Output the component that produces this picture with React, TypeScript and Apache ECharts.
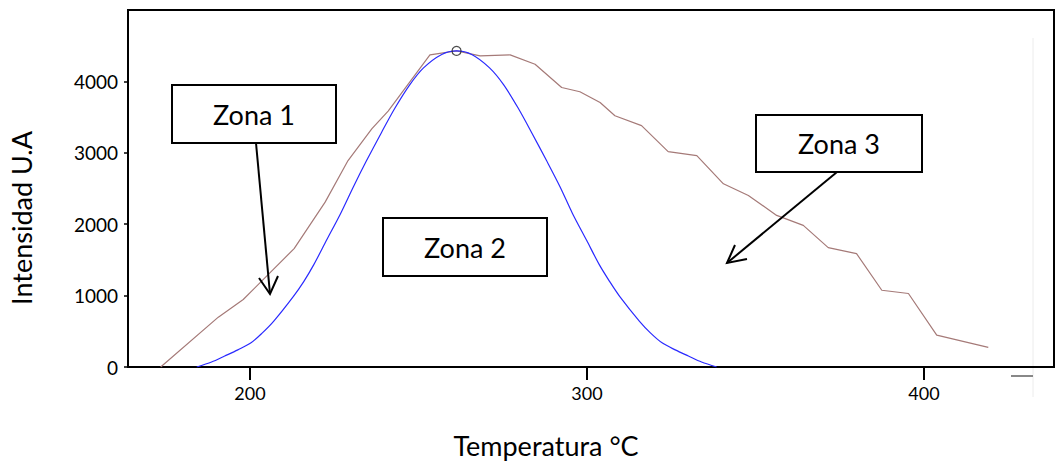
import React, { useEffect, useRef } from "react";
import * as echarts from "echarts";

// Axis ticks
const xTicks = [200, 300, 400];
const yTicks = [0, 1000, 2000, 3000, 4000];

// Measured TL glow curve (temperature °C, intensity U.A)
const measuredTemp = [173.5, 190.6, 198.0, 213.1, 222.3, 229.1, 236.2, 241.0, 253.4, 261.3, 268.3, 277.2, 284.6, 292.5, 297.9, 303.9, 308.3, 316.2, 324.1, 332.6, 340.5, 347.9, 356.3, 364.2, 371.6, 380.0, 387.5, 395.4, 403.8, 419.1];
const measuredIntensity = [0, 698, 945, 1658, 2309, 2891, 3338, 3585, 4371, 4427, 4357, 4371, 4241, 3915, 3855, 3705, 3519, 3380, 3017, 2961, 2566, 2402, 2123, 1983, 1672, 1588, 1075, 1029, 447, 275];

// Fitted gaussian peak (Zona 2)
const fitTemp = [184.2, 188.6, 192.5, 196.4, 200.2, 203.6, 207.0, 212.9, 216.0, 218.9, 222.7, 226.9, 230.7, 234.6, 239.0, 242.9, 247.4, 251.5, 256.9, 261.3, 265.8, 271.1, 275.3, 279.7, 283.6, 288.0, 292.0, 295.7, 299.9, 303.7, 306.7, 309.7, 315.6, 318.9, 322.4, 326.2, 330.1, 334.0, 338.5];
const fitIntensity = [0, 70, 154, 240, 335, 475, 640, 990, 1200, 1430, 1774, 2151, 2525, 2891, 3282, 3617, 3952, 4190, 4378, 4427, 4378, 4190, 3952, 3617, 3282, 2891, 2525, 2151, 1774, 1430, 1200, 990, 640, 475, 335, 240, 154, 70, 0];

// Peak maximum
const peakTemp = 261.3;
const peakIntensity = 4427;

const zoneLabels = ["Zona 1", "Zona 2", "Zona 3"];

const FONT = "Lato, 'Open Sans', sans-serif";

function zoneBox(x: number, y: number, w: number, h: number, label: string) {
  return [
    {
      type: "rect",
      shape: { x, y, width: w, height: h },
      style: { fill: "#fff", stroke: "#000", lineWidth: 2 },
      z: 10,
    },
    {
      type: "text",
      x: x + w / 2,
      y: y + h / 2,
      style: {
        text: label,
        fill: "#000",
        font: `27px ${FONT}`,
        align: "center",
        verticalAlign: "middle",
        textAlign: "center",
        textVerticalAlign: "middle",
      },
      z: 11,
    },
  ];
}

function arrow(x1: number, y1: number, x2: number, y2: number, head: number[][]) {
  return [
    {
      type: "line",
      shape: { x1, y1, x2, y2 },
      style: { stroke: "#000", lineWidth: 2 },
      z: 10,
    },
    {
      type: "polyline",
      shape: { points: head },
      style: { stroke: "#000", lineWidth: 2, fill: null },
      z: 10,
    },
  ];
}

export default function App() {
  const ref = useRef<HTMLDivElement>(null);

  useEffect(() => {
    if (!ref.current) return;
    const chart = echarts.init(ref.current, undefined, { renderer: "svg" });

    const measured = measuredTemp.map((t, i) => [t, measuredIntensity[i]]);
    const fitted = fitTemp.map((t, i) => [t, fitIntensity[i]]);

    chart.setOption({
      animation: false,
      backgroundColor: "#fff",
      grid: {
        left: 128,
        right: 1,
        top: 10,
        bottom: 94,
        show: true,
        borderColor: "#000",
        borderWidth: 2,
        backgroundColor: "transparent",
        containLabel: false,
        outerBoundsMode: "none",
      },
      xAxis: {
        type: "value",
        min: 163.8,
        max: 438.6,
        axisLine: { show: true, lineStyle: { color: "#000", width: 2 } },
        axisTick: {
          show: true,
          customValues: xTicks,
          length: 13,
          lineStyle: { color: "#000", width: 2 },
        },
        axisLabel: {
          customValues: xTicks,
          margin: 17,
          color: "#000",
          fontSize: 18,
          fontFamily: FONT,
          formatter: (v: number) => String(v),
        },
        splitLine: { show: false },
      },
      yAxis: {
        type: "value",
        min: 0,
        max: 5000,
        axisLine: { show: true, lineStyle: { color: "#000", width: 2 } },
        axisTick: {
          show: true,
          customValues: yTicks,
          length: 4,
          lineStyle: { color: "#000", width: 1.5 },
        },
        axisLabel: {
          customValues: yTicks,
          margin: 10,
          color: "#000",
          fontSize: 19,
          fontFamily: FONT,
          formatter: (v: number) => String(v),
        },
        splitLine: { show: false },
      },
      series: [
        {
          type: "line",
          data: measured,
          showSymbol: false,
          lineStyle: { color: "#a57a78", width: 1.2 },
          itemStyle: { color: "#a57a78" },
          z: 2,
        },
        {
          type: "line",
          data: fitted,
          smooth: 0.3,
          showSymbol: false,
          lineStyle: { color: "#2a2aff", width: 1.2 },
          itemStyle: { color: "#2a2aff" },
          z: 3,
        },
        {
          type: "scatter",
          data: [[peakTemp, peakIntensity]],
          symbol: "circle",
          symbolSize: 9,
          itemStyle: { color: "rgba(0,0,0,0)", borderColor: "#222", borderWidth: 1.2 },
          z: 4,
        },
      ],
      graphic: [
        ...zoneBox(172, 85, 164, 58, zoneLabels[0]),
        ...zoneBox(383, 218, 164, 58, zoneLabels[1]),
        ...zoneBox(756, 115, 166, 57, zoneLabels[2]),
        ...arrow(256, 143, 270, 294, [[259, 278], [270, 294], [278, 276]]),
        ...arrow(837, 172, 727, 263, [[735, 245], [727, 263], [747, 259]]),
        {
          type: "text",
          x: 21,
          y: 218,
          rotation: Math.PI / 2,
          style: {
            text: "Intensidad U.A",
            fill: "#000",
            font: `27px ${FONT}`,
            align: "center",
            verticalAlign: "middle",
            textAlign: "center",
            textVerticalAlign: "middle",
          },
        },
        {
          type: "text",
          x: 546,
          y: 445,
          style: {
            text: "Temperatura °C",
            fill: "#000",
            font: `27px ${FONT}`,
            align: "center",
            verticalAlign: "middle",
            textAlign: "center",
            textVerticalAlign: "middle",
          },
        },
        {
          type: "line",
          shape: { x1: 1033, y1: 38, x2: 1033, y2: 397 },
          style: { stroke: "#ececec", lineWidth: 1 },
        },
        {
          type: "line",
          shape: { x1: 1011, y1: 376, x2: 1033, y2: 376 },
          style: { stroke: "#888", lineWidth: 2 },
        },
      ],
    });

    return () => chart.dispose();
  }, []);

  return (
    <div
      ref={ref}
      style={{ position: "fixed", left: 0, top: 0, width: 1055, height: 461 }}
    />
  );
}
